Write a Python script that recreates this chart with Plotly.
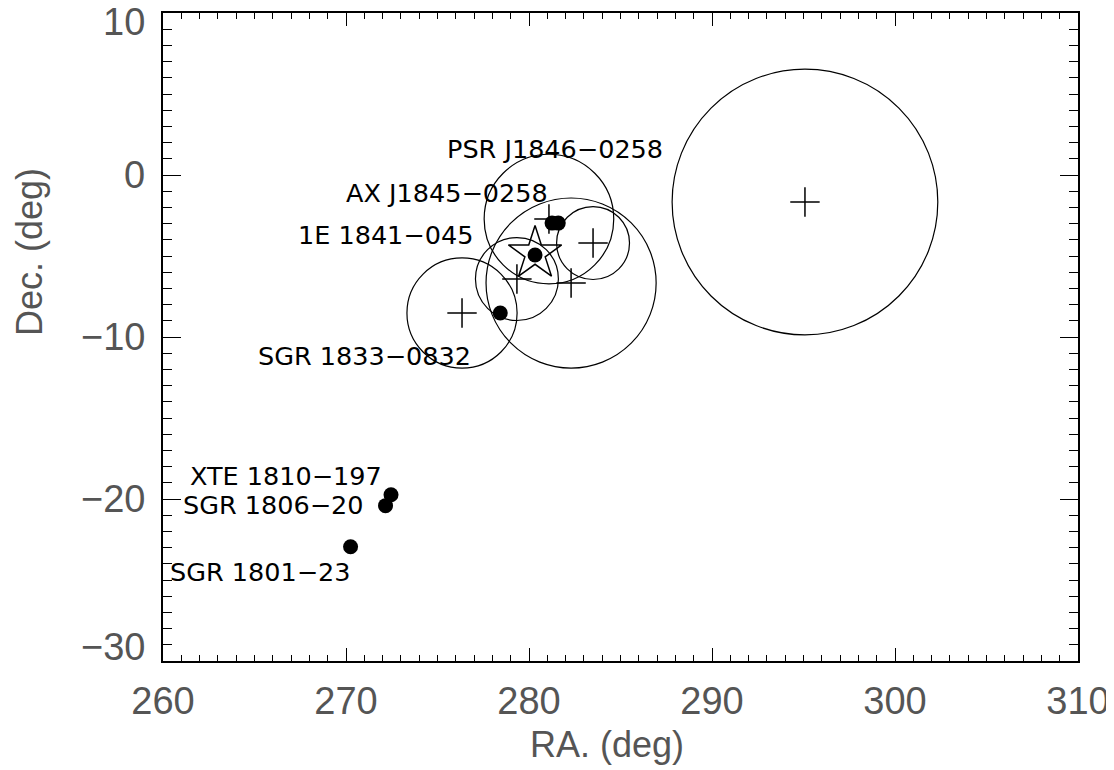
import plotly.graph_objects as go

# Known sources (filled dots)
src_names = ["SGR 1801−23", "SGR 1806−20", "XTE 1810−197", "SGR 1833−0832",
             "1E 1841−045", "AX J1845−0258", "PSR J1846−0258"]
src_ra = [270.25, 272.16, 272.46, 278.43, 280.33, 281.26, 281.60]
src_dec = [-22.95, -20.41, -19.74, -8.52, -4.94, -2.97, -2.97]

# Error circles (centre + radius in deg)
circ_ra = [295.08, 281.09, 283.50, 282.30, 279.34, 276.34]
circ_dec = [-1.67, -2.72, -4.20, -6.67, -6.42, -8.52]
circ_r = [8.2, 4.0, 2.25, 5.25, 2.56, 3.4]

# Star position
star_ra = [280.33]
star_dec = [-4.85]

x_range = [260, 310]
y_range = [-30, 10]
x_ticks = [260, 270, 280, 290, 300, 310]
y_ticks = [-30, -20, -10, 0, 10]

# page places the figure 8px from the top-left corner
W, H = 1106, 762
ML, MR, MT, MB = 155, 36, 5, 109
pw = W - ML - MR
ph = H - MT - MB
xpx = pw / (x_range[1] - x_range[0])
ypx = ph / (y_range[1] - y_range[0])
aspect = ypx / xpx

# label offsets (pixels) relative to each source, and anchor
lab_style = {
    "SGR 1801−23": (1, -25, "right"),
    "SGR 1806−20": (-21, 1, "right"),
    "XTE 1810−197": (-7, 19, "right"),
    "SGR 1833−0832": (-27, -43, "right"),
    "1E 1841−045": (-60, 20, "right"),
    "AX J1845−0258": (-2, 30, "right"),
    "PSR J1846−0258": (-3, 74, "center"),
}
# vertical nudge of the end y tick labels (as in the original)
ytick_shift = {10: -9, -30: 14}

fig = go.Figure()

shapes = []
for ra, dec, r in zip(circ_ra, circ_dec, circ_r):
    rx = r * aspect
    shapes.append(dict(type="circle", xref="x", yref="y",
                       x0=ra - rx, x1=ra + rx, y0=dec - r, y1=dec + r,
                       line=dict(color="black", width=1.2), layer="above"))

fig.add_trace(go.Scatter(x=circ_ra, y=circ_dec, mode="markers",
                         marker=dict(symbol="cross-thin", size=21,
                                     line=dict(color="black", width=1.5)),
                         showlegend=False, hoverinfo="skip"))
fig.add_trace(go.Scatter(x=src_ra, y=src_dec, mode="markers",
                         marker=dict(symbol="circle", size=15, color="black"),
                         showlegend=False))
fig.add_trace(go.Scatter(x=star_ra, y=star_dec, mode="markers",
                         marker=dict(symbol="star-open", size=40, color="black",
                                     line=dict(color="black", width=1.5)),
                         showlegend=False))

annotations = []
for n, ra, dec in zip(src_names, src_ra, src_dec):
    dx, dy, anc = lab_style[n]
    annotations.append(dict(x=ra, y=dec, xref="x", yref="y", text=n,
                            showarrow=False, xanchor=anc, yanchor="middle",
                            xshift=dx, yshift=dy,
                            font=dict(family="DejaVu Sans", size=25.5, color="black")))

tick_font = dict(family="Liberation Sans", size=38, color="#555")
for v in y_ticks:
    lab = ("−" + str(abs(v))) if v < 0 else str(v)
    annotations.append(dict(x=0, y=v, xref="paper", yref="y", text=lab,
                            showarrow=False, xanchor="right", yanchor="middle",
                            xshift=-16, yshift=ytick_shift.get(v, 0),
                            font=tick_font))

title_font = dict(family="Liberation Sans", size=36, color="#555")
annotations.append(dict(text="RA. (deg)", xref="paper", yref="paper",
                        x=(607 - 163) / pw, y=-(745 - 661) / ph,
                        xanchor="center", yanchor="middle", showarrow=False,
                        font=title_font))
annotations.append(dict(text="Dec. (deg)", xref="paper", yref="paper",
                        x=-(163 - 30) / pw, y=1 - (252 - 13) / ph, textangle=-90,
                        xanchor="center", yanchor="middle", showarrow=False,
                        font=title_font))

axis_common = dict(showline=True, linecolor="black", linewidth=1.5, mirror="allticks",
                   ticks="inside", tickcolor="black", tickwidth=1.2,
                   showgrid=False, zeroline=False, automargin=False,
                   ticklabeloverflow="allow", tickfont=tick_font)

fig.update_layout(
    width=W, height=H,
    margin=dict(l=ML, r=MR, t=MT, b=MB),
    plot_bgcolor="white", paper_bgcolor="white",
    shapes=shapes, annotations=annotations,
    xaxis=dict(range=x_range, tickvals=x_ticks, ticklen=13,
               minor=dict(dtick=1, ticklen=6, ticks="inside", tickcolor="black", tickwidth=1),
               ticklabelstandoff=6,
               **axis_common),
    yaxis=dict(range=y_range, tickvals=y_ticks, ticklen=18, showticklabels=False,
               minor=dict(dtick=1, ticklen=9, ticks="inside", tickcolor="black", tickwidth=1),
               **axis_common),
)

fig.write_html("out.html")
